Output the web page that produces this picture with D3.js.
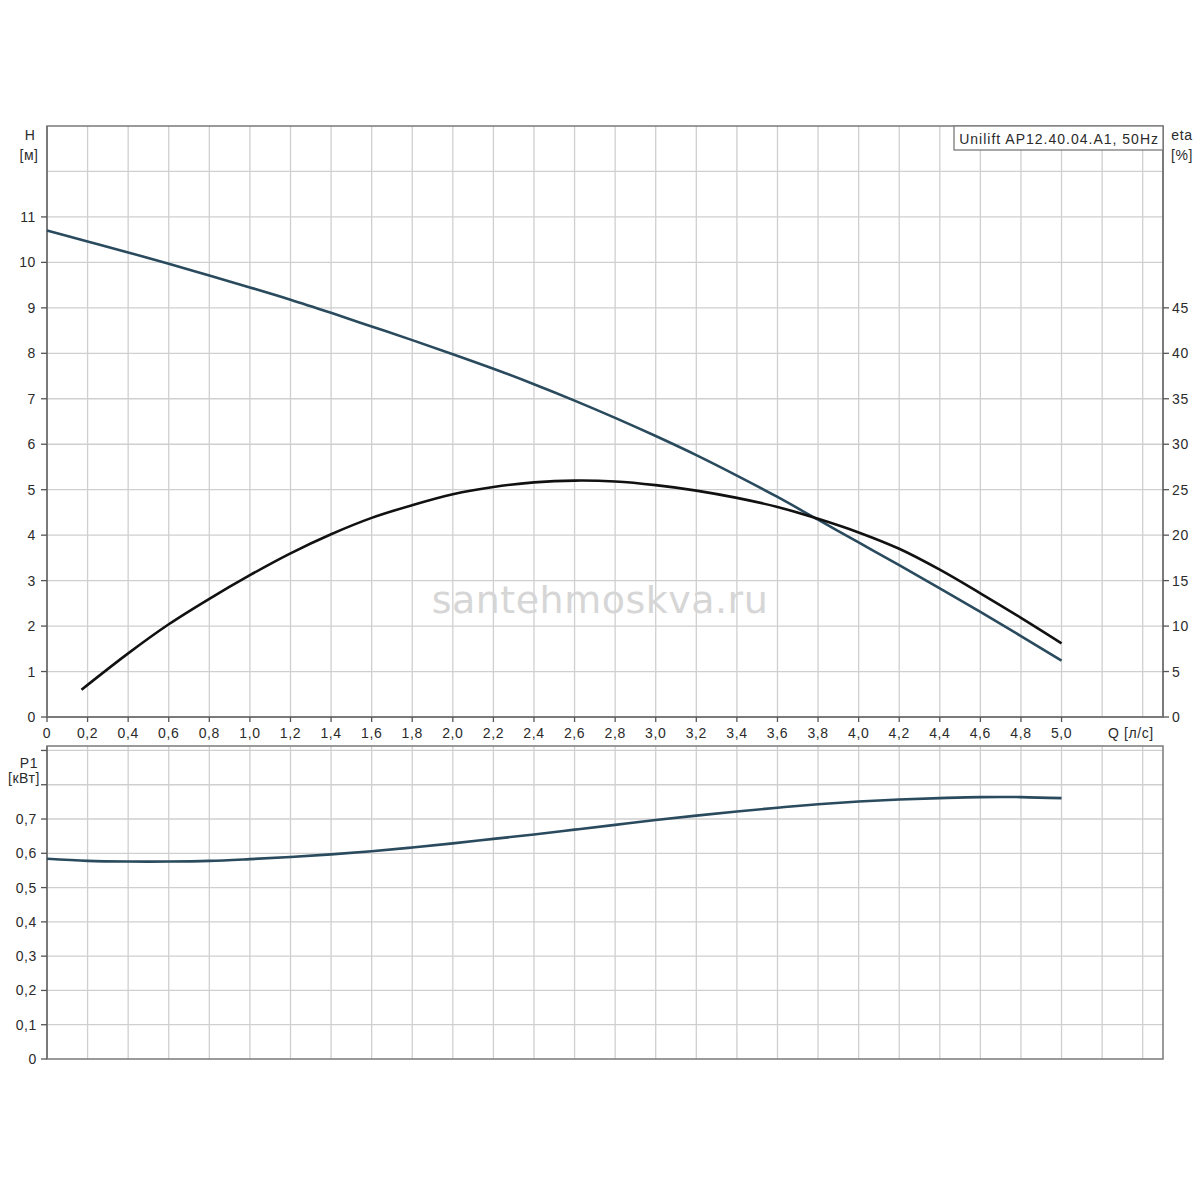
<!DOCTYPE html>
<html>
<head>
<meta charset="utf-8">
<script src="https://cdn.jsdelivr.net/npm/d3@7"></script>
<style>
  body { margin: 0; background: #fff; }
  text { font-family: "Liberation Sans", Arial, sans-serif; fill: #2b2b2b; }
  .grille { stroke: #cfcfcf; stroke-width: 1.3; }
  .axe { stroke: #7a7a7a; stroke-width: 2; fill: none; }
  .tick { stroke: #555; stroke-width: 1.3; }
  .lbl { font-size: 14px; letter-spacing: 0.6px; }
</style>
</head>
<body>
<div id="chart"></div>
<script>
// Données
var qTicks = [0, 0.2, 0.4, 0.6, 0.8, 1.0, 1.2, 1.4, 1.6, 1.8, 2.0, 2.2, 2.4, 2.6, 2.8, 3.0, 3.2, 3.4, 3.6, 3.8, 4.0, 4.2, 4.4, 4.6, 4.8, 5.0];
var hTicks = [0, 1, 2, 3, 4, 5, 6, 7, 8, 9, 10, 11];
var etaTicks = [0, 5, 10, 15, 20, 25, 30, 35, 40, 45];
var pTicks = [0, 0.1, 0.2, 0.3, 0.4, 0.5, 0.6, 0.7];

// courbe H (m)
var hQ = [0, 0.2, 0.4, 0.6, 0.8, 1.0, 1.2, 1.4, 1.6, 1.8, 2.0, 2.2, 2.4, 2.6, 2.8, 3.0, 3.2, 3.4, 3.6, 3.8, 4.0, 4.2, 4.4, 4.6, 4.8, 5.0];
var hVal = [10.7, 10.46, 10.22, 9.97, 9.71, 9.45, 9.18, 8.89, 8.59, 8.29, 7.98, 7.66, 7.32, 6.96, 6.58, 6.18, 5.76, 5.31, 4.84, 4.34, 3.84, 3.34, 2.83, 2.31, 1.78, 1.24];

// courbe eta (%)
var etaQ = [0.17, 0.4, 0.6, 0.8, 1.0, 1.2, 1.4, 1.6, 1.8, 2.0, 2.2, 2.4, 2.6, 2.8, 3.0, 3.2, 3.4, 3.6, 3.8, 4.0, 4.2, 4.4, 4.6, 4.8, 5.0];
var etaVal = [3.0, 7.0, 10.2, 13.0, 15.6, 18.0, 20.1, 21.9, 23.3, 24.5, 25.3, 25.8, 26.0, 25.9, 25.5, 24.9, 24.1, 23.1, 21.8, 20.3, 18.5, 16.2, 13.6, 10.9, 8.1];

// courbe P1 (kW)
var pQ = [0, 0.2, 0.4, 0.6, 0.8, 1.0, 1.2, 1.4, 1.6, 1.8, 2.0, 2.2, 2.4, 2.6, 2.8, 3.0, 3.2, 3.4, 3.6, 3.8, 4.0, 4.2, 4.4, 4.6, 4.8, 5.0];
var pVal = [0.584, 0.578, 0.576, 0.576, 0.578, 0.583, 0.589, 0.597, 0.606, 0.617, 0.629, 0.642, 0.655, 0.669, 0.683, 0.697, 0.710, 0.722, 0.733, 0.743, 0.751, 0.757, 0.761, 0.764, 0.764, 0.761];

var titre = "Unilift AP12.40.04.A1, 50Hz";

var width = 1200, height = 1200;
var fmt = function(d) { return d === 0 ? "0" : d3.format(".1f")(d).replace(".", ","); };

var svg = d3.select("#chart").append("svg")
    .attr("width", width)
    .attr("height", height);
svg.append("rect").attr("width", width).attr("height", height).attr("fill", "#fff");

var x = d3.scaleLinear().domain([0, 5.5]).range([47, 1163]);
var yH = d3.scaleLinear().domain([0, 13]).range([717, 126]);
var yEta = d3.scaleLinear().domain([0, 65]).range([717, 126]);
var yP = d3.scaleLinear().domain([0, 0.913]).range([1059, 746]);

var gridQ = d3.range(1, 28).map(function(i) { return i * 0.2; });

// ---- panneau du haut ----
var haut = svg.append("g");
haut.selectAll(".gv").data(gridQ).enter().append("line")
    .attr("class", "grille")
    .attr("x1", function(d) { return x(d); }).attr("x2", function(d) { return x(d); })
    .attr("y1", yH(13)).attr("y2", yH(0));
haut.selectAll(".gh").data(d3.range(1, 13)).enter().append("line")
    .attr("class", "grille")
    .attr("x1", x(0)).attr("x2", x(5.5))
    .attr("y1", function(d) { return yH(d); }).attr("y2", function(d) { return yH(d); });
haut.append("rect").attr("class", "axe")
    .attr("x", x(0)).attr("y", yH(13)).attr("width", x(5.5) - x(0)).attr("height", yH(0) - yH(13))
    .style("stroke-width", 1.5);
haut.append("line").attr("class", "axe").attr("x1", x(0)).attr("x2", x(0)).attr("y1", yH(13)).attr("y2", yH(0));
haut.append("line").attr("class", "axe").attr("x1", x(5.5)).attr("x2", x(5.5)).attr("y1", yH(13)).attr("y2", yH(0));
haut.append("line").attr("class", "axe").attr("x1", x(0)).attr("x2", x(5.5)).attr("y1", yH(0)).attr("y2", yH(0));

// axe gauche H
haut.selectAll(".th").data(hTicks).enter().append("line")
    .attr("class", "tick")
    .attr("x1", x(0) - 6).attr("x2", x(0))
    .attr("y1", function(d) { return yH(d); }).attr("y2", function(d) { return yH(d); });
haut.selectAll(".lh").data(hTicks).enter().append("text")
    .attr("class", "lbl")
    .attr("x", 36).attr("y", function(d) { return yH(d) + 5; })
    .attr("text-anchor", "end")
    .text(function(d) { return d; });

// axe droit eta
haut.selectAll(".te").data(etaTicks).enter().append("line")
    .attr("class", "tick")
    .attr("x1", x(5.5)).attr("x2", x(5.5) + 6)
    .attr("y1", function(d) { return yEta(d); }).attr("y2", function(d) { return yEta(d); });
haut.selectAll(".le").data(etaTicks).enter().append("text")
    .attr("class", "lbl")
    .attr("x", 1172).attr("y", function(d) { return yEta(d) + 5; })
    .text(function(d) { return d; });

// axe Q
haut.selectAll(".tq").data(qTicks).enter().append("line")
    .attr("class", "tick")
    .attr("x1", function(d) { return x(d); }).attr("x2", function(d) { return x(d); })
    .attr("y1", yH(0)).attr("y2", yH(0) + 5);
haut.selectAll(".lq").data(qTicks).enter().append("text")
    .attr("class", "lbl")
    .attr("x", function(d) { return x(d); }).attr("y", 738)
    .attr("text-anchor", "middle")
    .text(fmt);

svg.append("text").attr("class", "lbl").attr("x", 1108).attr("y", 738).text("Q [л/с]");
svg.append("text").attr("class", "lbl").attr("x", 30).attr("y", 140).attr("text-anchor", "middle").text("H");
svg.append("text").attr("class", "lbl").attr("x", 29).attr("y", 160).attr("text-anchor", "middle").text("[м]");
svg.append("text").attr("class", "lbl").attr("x", 1182).attr("y", 140).attr("text-anchor", "middle").text("eta");
svg.append("text").attr("class", "lbl").attr("x", 1182).attr("y", 160).attr("text-anchor", "middle").text("[%]");

// cadre du titre
haut.append("rect")
    .attr("x", 954).attr("y", yH(13)).attr("width", x(5.5) - 954).attr("height", 24)
    .attr("fill", "#fff").attr("stroke", "#7a7a7a").attr("stroke-width", 1.3);
haut.append("text").attr("class", "lbl")
    .attr("x", 1159).attr("y", yH(13) + 18).attr("text-anchor", "end")
    .style("letter-spacing", "1px")
    .text(titre);

// filigrane
svg.append("text")
    .attr("x", 600).attr("y", 613).attr("text-anchor", "middle")
    .style("font-family", "'DejaVu Sans', 'Noto Sans', sans-serif")
    .style("font-size", "38px")
    .style("letter-spacing", "0.5px")
    .style("fill", "#d6d6d6")
    .text("santehmoskva.ru");

// courbes
var ligneH = d3.line().curve(d3.curveCatmullRom.alpha(0.5))
    .x(function(d, i) { return x(hQ[i]); })
    .y(function(d) { return yH(d); });
haut.append("path").attr("d", ligneH(hVal))
    .attr("fill", "none").attr("stroke", "#2a4a5e").attr("stroke-width", 2.6);

var ligneEta = d3.line().curve(d3.curveCatmullRom.alpha(0.5))
    .x(function(d, i) { return x(etaQ[i]); })
    .y(function(d) { return yEta(d); });
haut.append("path").attr("d", ligneEta(etaVal))
    .attr("fill", "none").attr("stroke", "#111").attr("stroke-width", 2.6);

// ---- panneau du bas ----
var bas = svg.append("g");
bas.selectAll(".gv").data(gridQ).enter().append("line")
    .attr("class", "grille")
    .attr("x1", function(d) { return x(d); }).attr("x2", function(d) { return x(d); })
    .attr("y1", yP(0.913)).attr("y2", yP(0));
bas.selectAll(".gh").data(d3.range(1, 10).map(function(i) { return i / 10; })).enter().append("line")
    .attr("class", "grille")
    .attr("x1", x(0)).attr("x2", x(5.5))
    .attr("y1", function(d) { return yP(d); }).attr("y2", function(d) { return yP(d); });
bas.append("rect").attr("class", "axe")
    .attr("x", x(0)).attr("y", yP(0.913)).attr("width", x(5.5) - x(0)).attr("height", yP(0) - yP(0.913))
    .style("stroke-width", 1.5);
bas.append("line").attr("class", "axe").attr("x1", x(0)).attr("x2", x(0)).attr("y1", yP(0.913)).attr("y2", yP(0));

bas.selectAll(".tp").data(pTicks.concat([0.8, 0.9])).enter().append("line")
    .attr("class", "tick")
    .attr("x1", x(0) - 6).attr("x2", x(0))
    .attr("y1", function(d) { return yP(d); }).attr("y2", function(d) { return yP(d); });
bas.selectAll(".lp").data(pTicks).enter().append("text")
    .attr("class", "lbl")
    .attr("x", 37).attr("y", function(d) { return yP(d) + 5; })
    .attr("text-anchor", "end")
    .text(fmt);

svg.append("text").attr("class", "lbl").attr("x", 29).attr("y", 768).attr("text-anchor", "middle").text("P1");
svg.append("text").attr("class", "lbl").attr("x", 24).attr("y", 783).attr("text-anchor", "middle").text("[кВт]");

var ligneP = d3.line().curve(d3.curveCatmullRom.alpha(0.5))
    .x(function(d, i) { return x(pQ[i]); })
    .y(function(d) { return yP(d); });
bas.append("path").attr("d", ligneP(pVal))
    .attr("fill", "none").attr("stroke", "#2a4a5e").attr("stroke-width", 2.6);
</script>
</body>
</html>
